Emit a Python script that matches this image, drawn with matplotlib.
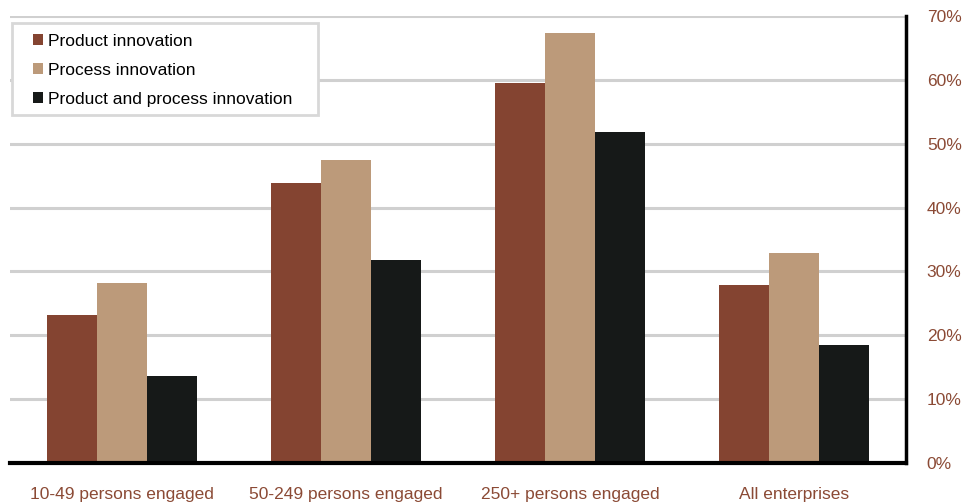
import matplotlib
matplotlib.use("Agg")
import matplotlib.pyplot as plt
import numpy as np
from matplotlib.patches import Patch, Rectangle

categories = ["10-49 persons engaged", "50-249 persons engaged",
              "250+ persons engaged", "All enterprises"]
series_names = ["Product innovation", "Process innovation",
                "Product and process innovation"]
product = [23.2, 43.8, 59.5, 27.9]
process = [28.2, 47.4, 67.4, 32.9]
both = [13.6, 31.8, 51.8, 18.5]
y_ticks = [0, 10, 20, 30, 40, 50, 60, 70]
y_tick_labels = ["0%", "10%", "20%", "30%", "40%", "50%", "60%", "70%"]

colors = ["#844431", "#BC9A7A", "#161918"]
label_color = "#8B4A35"

plt.rcParams["font.family"] = ["Liberation Sans", "DejaVu Sans"]

W, H = 965, 504
fig = plt.figure(figsize=(W / 100, H / 100), dpi=100)
ax = fig.add_axes([10 / W, 41 / H, 896 / W, 447 / H])

x = np.arange(len(categories))
w = 0.223
for i, (vals, c) in enumerate(zip([product, process, both], colors)):
    ax.bar(x + (i - 1) * w, vals, width=w, color=c, zorder=3,
           edgecolor="none")

ax.set_xlim(-0.5, len(categories) - 0.5)
ax.set_ylim(0, 70)
ax.set_yticks(y_ticks)
ax.set_yticklabels(y_tick_labels)
ax.yaxis.tick_right()
ax.tick_params(axis="y", length=0, pad=15, labelsize=12.5, labelcolor=label_color)
ax.set_xticks(x)
ax.set_xticklabels(categories)
ax.tick_params(axis="x", length=0, pad=17, labelsize=12.5, labelcolor=label_color)

ax.grid(axis="y", color="#d0d0d0", linewidth=2.2, zorder=0)
ax.set_axisbelow(True)

for s in ["top", "left"]:
    ax.spines[s].set_visible(False)
ax.spines["right"].set_linewidth(2.5)
ax.spines["bottom"].set_linewidth(3)
ax.spines["right"].set_color("black")
ax.spines["bottom"].set_color("black")
ax.spines["right"].set_zorder(5)
ax.spines["bottom"].set_zorder(5)

# legend box
box = Rectangle((12 / W, 1 - 115 / H), 306 / W, 92 / H,
                transform=fig.transFigure, facecolor="white",
                edgecolor="#d8d8d8", linewidth=2, zorder=6, clip_on=False)
ax.add_patch(box)

handles = [Patch(facecolor=c, edgecolor="none") for c in colors]
leg = ax.legend(handles, series_names, loc="upper left",
                bbox_to_anchor=(33 / W, 1 - 34 / H),
                bbox_transform=fig.transFigure,
                frameon=False, fontsize=12.5,
                handlelength=0.6, handleheight=0.6, handletextpad=0.25,
                labelspacing=0.8, borderpad=0, borderaxespad=0)
leg.set_zorder(7)

fig.savefig("out.png", dpi=100)
